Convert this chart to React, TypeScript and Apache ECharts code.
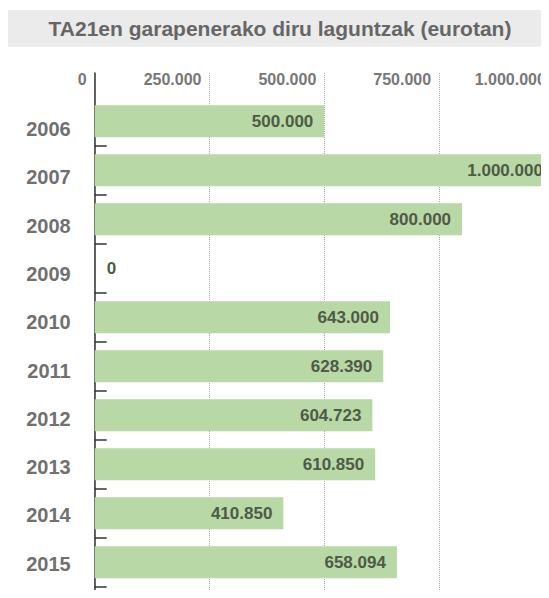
import React, { useEffect, useRef } from "react";
import * as echarts from "echarts";

const TITLE = "TA21en garapenerako diru laguntzak (eurotan)";
const years = ["2006", "2007", "2008", "2009", "2010", "2011", "2012", "2013", "2014", "2015"];
const amounts = [500000, 1000000, 800000, 0, 643000, 628390, 604723, 610850, 410850, 658094];
const axisMin = 0;
const axisMax = 1000000;
const axisStep = 250000;

const FONT = "'Liberation Sans', Arial, Helvetica, sans-serif";

const fmt = (v: number) => String(Math.round(v)).replace(/\B(?=(\d{3})+(?!\d))/g, ".");

export default function App() {
  const ref = useRef<HTMLDivElement>(null);
  useEffect(() => {
    if (!ref.current) return;
    const chart = echarts.init(ref.current, undefined, { renderer: "svg" });
    const gridLeft = 86.7;
    const gridRight = -4.9;
    const base = { left: gridLeft, right: gridRight, outerBoundsMode: "none", containLabel: false };
    chart.setOption({
      animation: false,
      graphic: [
        {
          type: "rect",
          z: 0,
          shape: { x: 0, y: 2, width: 541, height: 36.7 },
          style: { fill: "#ebebeb" },
        },
        {
          type: "text",
          z: 10,
          x: 272,
          y: 20.5,
          style: {
            text: TITLE,
            textAlign: "center",
            textVerticalAlign: "middle",
            fontFamily: FONT,
            fontSize: 21,
            fontWeight: "bold",
            fill: "#666666",
          },
        },
      ],
      grid: [
        { ...base, top: 65, bottom: -20 },
        { ...base, top: 88.7, height: 490 },
        { ...base, top: 89.85, height: 483 },
      ],
      xAxis: [
        {
          gridIndex: 0,
          type: "value",
          position: "top",
          min: axisMin,
          max: axisMax,
          interval: axisStep,
          axisLine: { show: false },
          axisTick: { show: false },
          splitLine: { show: true, lineStyle: { type: "dotted", color: "#a8a8a8", width: 1 } },
          axisLabel: {
            inside: true,
            margin: 6,
            align: "right",
            verticalAlign: "middle",
            padding: [0, 8, 0, 0],
            formatter: (v: number) => fmt(v),
            color: "#777777",
            fontFamily: FONT,
            fontWeight: "bold",
            fontSize: 16,
          },
        },
        {
          gridIndex: 1,
          type: "value",
          min: axisMin,
          max: axisMax,
          interval: axisStep,
          show: false,
        },
        {
          gridIndex: 2,
          type: "value",
          min: axisMin,
          max: axisMax,
          interval: axisStep,
          show: false,
        },
      ],
      yAxis: [
        {
          gridIndex: 0,
          type: "value",
          min: 0,
          max: 1,
          axisLine: { show: true, lineStyle: { color: "#333333", width: 1.5 } },
          axisTick: { show: false },
          axisLabel: { show: false },
          splitLine: { show: false },
        },
        {
          gridIndex: 1,
          type: "category",
          data: years,
          inverse: true,
          axisLine: { show: false },
          axisTick: {
            show: true,
            inside: true,
            length: 12,
            interval: (i: number) => i > 0,
            lineStyle: { color: "#333333", width: 1.5 },
          },
          axisLabel: { show: false },
        },
        {
          gridIndex: 2,
          type: "category",
          data: years,
          inverse: true,
          axisLine: { show: false },
          axisTick: { show: false },
          splitLine: { show: false },
          axisLabel: {
            interval: 0,
            margin: 24,
            verticalAlign: "top",
            lineHeight: 14,
            color: "#707070",
            fontFamily: FONT,
            fontWeight: "bold",
            fontSize: 20,
          },
        },
      ],
      series: [
        {
          type: "bar",
          xAxisIndex: 1,
          yAxisIndex: 1,
          barWidth: 32,
          itemStyle: { color: "#b8d8a6" },
          label: {
            show: true,
            position: "insideRight",
            distance: 11,
            formatter: (p: any) => fmt(p.value),
            color: "#4f5a47",
            fontFamily: FONT,
            fontWeight: "bold",
            fontSize: 17,
          },
          data: amounts.map((v) =>
            v === 0 ? { value: v, label: { position: "right", distance: 12 } } : v
          ),
        },
      ],
    });
    return () => chart.dispose();
  }, []);
  return <div ref={ref} style={{ width: 541, height: 590, marginBottom: -8 }} />;
}
